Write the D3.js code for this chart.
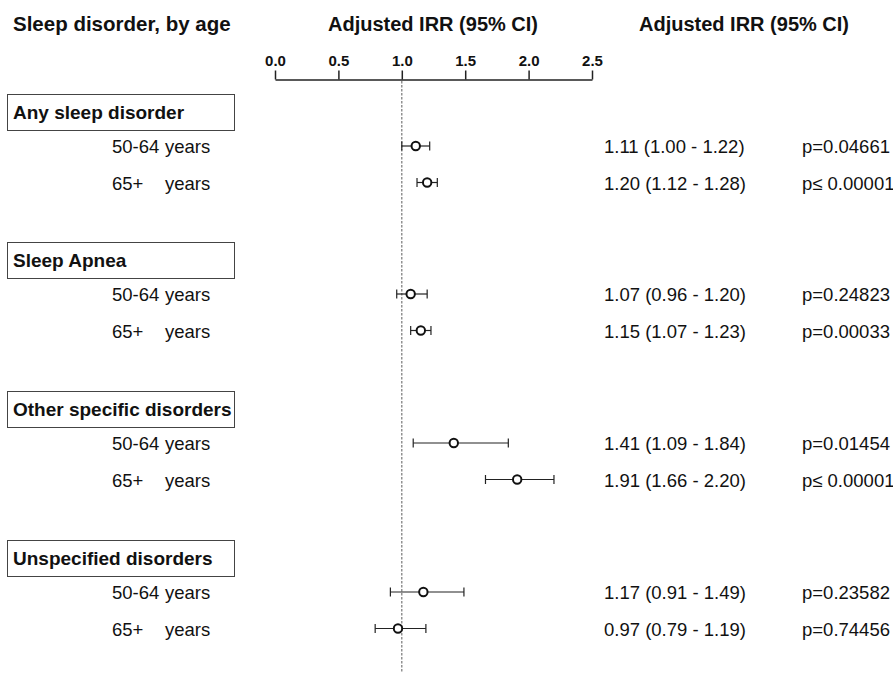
<!DOCTYPE html>
<html>
<head>
<meta charset="utf-8">
<script src="https://cdn.jsdelivr.net/npm/d3@7"></script>
<style>
  body { margin: 0; background: #fff; }
  text { font-family: "Liberation Sans", Arial, sans-serif; fill: #111; }
</style>
</head>
<body>
<div id="chart"></div>
<script>
// Data
const groups = ["Any sleep disorder", "Sleep Apnea", "Other specific disorders", "Unspecified disorders"];
const ages = ["50-64", "65+"];
const irr = [1.11, 1.20, 1.07, 1.15, 1.41, 1.91, 1.17, 0.97];
const lower = [1.00, 1.12, 0.96, 1.07, 1.09, 1.66, 0.91, 0.79];
const upper = [1.22, 1.28, 1.20, 1.23, 1.84, 2.20, 1.49, 1.19];
const irrText = ["1.11 (1.00 - 1.22)", "1.20 (1.12 - 1.28)", "1.07 (0.96 - 1.20)", "1.15 (1.07 - 1.23)",
  "1.41 (1.09 - 1.84)", "1.91 (1.66 - 2.20)", "1.17 (0.91 - 1.49)", "0.97 (0.79 - 1.19)"];
const pText = ["p=0.04661", "p\u2264 0.00001", "p=0.24823", "p=0.00033",
  "p=0.01454", "p\u2264 0.00001", "p=0.23582", "p=0.74456"];
const ticks = [0, 0.5, 1.0, 1.5, 2.0, 2.5];

const svgWidth = 893;
const svgHeight = 673;

const svg = d3.select("#chart")
  .append("svg")
  .attr("width", svgWidth)
  .attr("height", svgHeight);

const x = d3.scaleLinear().domain([0, 2.5]).range([275, 592]);

// row positions: header box, then two age rows per group
const groupTop = [94, 242, 391, 540];
const rowY = (g, a) => groupTop[g] + 52 + a * 36.5;

const headSize = "20.5px";
const boxSize = "19px";
const textSize = "18.5px";

// headers
svg.append("text").attr("x", 13).attr("y", 31)
  .style("font-size", headSize).style("font-weight", "bold")
  .text("Sleep disorder, by age");
svg.append("text").attr("x", 433).attr("y", 31).attr("text-anchor", "middle")
  .style("font-size", "20px").style("font-weight", "bold")
  .text("Adjusted IRR (95% CI)");
svg.append("text").attr("x", 744).attr("y", 31).attr("text-anchor", "middle")
  .style("font-size", "20px").style("font-weight", "bold")
  .text("Adjusted IRR (95% CI)");

// axis on top
const axis = d3.axisTop(x).tickValues(ticks).tickFormat(d3.format(".1f"))
  .tickSizeInner(9).tickSizeOuter(0).tickPadding(5);
const axisG = svg.append("g")
  .attr("transform", "translate(0,79.5)")
  .call(axis);
axisG.select(".domain").attr("stroke", "#222").attr("stroke-width", 1.5);
axisG.selectAll(".tick line").attr("stroke", "#222").attr("stroke-width", 1.5);
axisG.selectAll(".tick text")
  .style("font-family", "'Liberation Sans', Arial, sans-serif")
  .style("font-size", "15px").style("font-weight", "bold").attr("fill", "#111");

// reference line at 1
svg.append("line")
  .attr("x1", x(1)).attr("x2", x(1))
  .attr("y1", 81).attr("y2", 673)
  .attr("stroke", "#777").attr("stroke-width", 1.2)
  .attr("stroke-dasharray", "2.5,1.5");

// group boxes
groups.forEach((g, i) => {
  svg.append("rect")
    .attr("x", 7.5).attr("y", groupTop[i] + 0.5)
    .attr("width", 227).attr("height", 36)
    .attr("fill", "none").attr("stroke", "#444").attr("stroke-width", 1);
  svg.append("text").attr("x", 13).attr("y", groupTop[i] + 25)
    .style("font-size", boxSize).style("font-weight", "bold")
    .text(g);
});

// rows
const rows = irr.map((v, i) => ({
  g: Math.floor(i / 2), a: i % 2, v: v, lo: lower[i], hi: upper[i],
  txt: irrText[i], p: pText[i]
}));

rows.forEach(d => {
  const y = rowY(d.g, d.a) + 7;
  svg.append("text").attr("x", 112).attr("y", y)
    .style("font-size", textSize).text(ages[d.a]);
  svg.append("text").attr("x", 165).attr("y", y)
    .style("font-size", textSize).text("years");
  svg.append("text").attr("x", 604).attr("y", y)
    .style("font-size", textSize).text(d.txt);
  svg.append("text").attr("x", 802).attr("y", y)
    .style("font-size", textSize).text(d.p);
});

const ci = svg.append("g");
ci.selectAll("line.ci").data(rows).join("line")
  .attr("class", "ci")
  .attr("x1", d => x(d.lo)).attr("x2", d => x(d.hi))
  .attr("y1", d => rowY(d.g, d.a)).attr("y2", d => rowY(d.g, d.a))
  .attr("stroke", "#222").attr("stroke-width", 1.2);
ci.selectAll("line.capl").data(rows).join("line")
  .attr("class", "capl")
  .attr("x1", d => x(d.lo)).attr("x2", d => x(d.lo))
  .attr("y1", d => rowY(d.g, d.a) - 4.5).attr("y2", d => rowY(d.g, d.a) + 4.5)
  .attr("stroke", "#222").attr("stroke-width", 1.2);
ci.selectAll("line.caph").data(rows).join("line")
  .attr("class", "caph")
  .attr("x1", d => x(d.hi)).attr("x2", d => x(d.hi))
  .attr("y1", d => rowY(d.g, d.a) - 4.5).attr("y2", d => rowY(d.g, d.a) + 4.5)
  .attr("stroke", "#222").attr("stroke-width", 1.2);
ci.selectAll("circle").data(rows).join("circle")
  .attr("cx", d => x(d.v)).attr("cy", d => rowY(d.g, d.a))
  .attr("r", 4.2)
  .attr("fill", "#fff").attr("stroke", "#111").attr("stroke-width", 2);
</script>
</body>
</html>
